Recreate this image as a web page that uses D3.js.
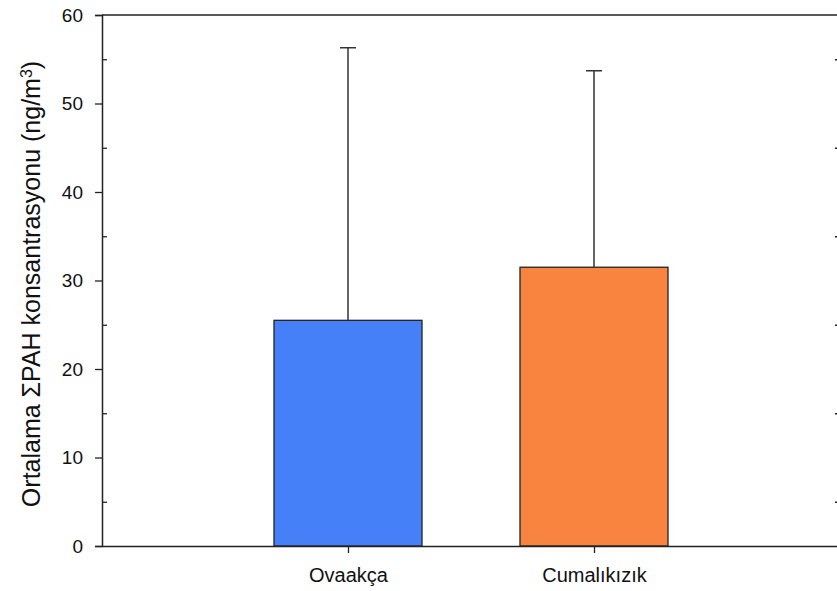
<!DOCTYPE html>
<html>
<head>
<meta charset="utf-8">
<script src="https://cdn.jsdelivr.net/npm/d3@7"></script>
<style>
  html, body { margin: 0; padding: 0; background: #fff; }
  svg { display: block; font-family: "Liberation Sans", Arial, sans-serif; }
</style>
</head>
<body>
<svg id="chart" width="837" height="591"></svg>
<script>
// Mean ΣPAH concentration per site, with the upper standard deviation bar
const sites = ["Ovaakça", "Cumalıkızık"];
const means = [25.5, 31.5];
const upperErrors = [56.3, 53.7];
const barColors = ["#4580f8", "#f8843f"];
const majorTicks = [0, 10, 20, 30, 40, 50, 60];
const minorTicks = [5, 15, 25, 35, 45, 55];

const svg = d3.select("#chart");
const plotLeft = 102, plotRight = 840, plotTop = 15, plotBottom = 546;

const x = d3.scalePoint().domain(sites).range([plotLeft, plotRight]).padding(1);
const y = d3.scaleLinear().domain([0, 60]).range([plotBottom, plotTop]);
const barW = 148, capW = 16;

// bars
svg.selectAll("rect.bar").data(sites).join("rect")
  .attr("class", "bar")
  .attr("x", d => x(d) - barW / 2)
  .attr("width", barW)
  .attr("y", (d, i) => y(means[i]))
  .attr("height", (d, i) => y(0) - y(means[i]))
  .attr("fill", (d, i) => barColors[i])
  .attr("stroke", "#222")
  .attr("stroke-width", 1.3);

// error bars (upper only)
svg.selectAll("line.err").data(sites).join("line")
  .attr("class", "err")
  .attr("x1", d => x(d)).attr("x2", d => x(d))
  .attr("y1", (d, i) => y(means[i]))
  .attr("y2", (d, i) => y(upperErrors[i]))
  .attr("stroke", "#333").attr("stroke-width", 1.5);
svg.selectAll("line.cap").data(sites).join("line")
  .attr("class", "cap")
  .attr("x1", d => x(d) - capW / 2).attr("x2", d => x(d) + capW / 2)
  .attr("y1", (d, i) => y(upperErrors[i]))
  .attr("y2", (d, i) => y(upperErrors[i]))
  .attr("stroke", "#333").attr("stroke-width", 1.5);

// left axis: major ticks outward, minor ticks inward
const yAxis = svg.append("g").attr("transform", `translate(${plotLeft},0)`)
  .call(d3.axisLeft(y).tickValues(majorTicks).tickSize(7).tickPadding(12).tickFormat(d3.format("d")));
yAxis.selectAll("text").attr("font-size", "19px").attr("fill", "#111")
  .attr("font-family", "Liberation Sans, Arial, sans-serif");
svg.append("g").attr("transform", `translate(${plotLeft},0)`)
  .call(d3.axisRight(y).tickValues(minorTicks).tickSize(5).tickFormat(""))
  .select(".domain").remove();

// right axis mirror
svg.append("g").attr("transform", `translate(${plotRight},0)`)
  .call(d3.axisRight(y).tickValues(majorTicks).tickSize(7).tickFormat(""));
svg.append("g").attr("transform", `translate(${plotRight},0)`)
  .call(d3.axisLeft(y).tickValues(minorTicks).tickSize(5).tickFormat(""))
  .select(".domain").remove();

// bottom and top axes
const xAxis = svg.append("g").attr("transform", `translate(0,${plotBottom})`)
  .call(d3.axisBottom(x).tickSize(7).tickPadding(15).tickSizeOuter(0));
xAxis.selectAll("text").attr("font-size", "20px").attr("fill", "#111")
  .attr("font-family", "Liberation Sans, Arial, sans-serif");
svg.append("line").attr("x1", plotLeft).attr("x2", plotRight)
  .attr("y1", plotTop).attr("y2", plotTop).attr("stroke", "#222").attr("stroke-width", 1.5);

svg.selectAll(".domain").attr("stroke", "#222").attr("stroke-width", 1.5);
svg.selectAll(".tick line").attr("stroke", "#222").attr("stroke-width", 1.3);

// y-axis title
const title = svg.append("text")
  .attr("transform", `translate(40,284) rotate(-90)`)
  .attr("text-anchor", "middle")
  .attr("font-size", "25px").attr("fill", "#111");
title.append("tspan").text("Ortalama ΣPAH konsantrasyonu (ng/m");
title.append("tspan").attr("baseline-shift", "super").attr("font-size", "16px").text("3");
title.append("tspan").text(")");
</script>
</body>
</html>
